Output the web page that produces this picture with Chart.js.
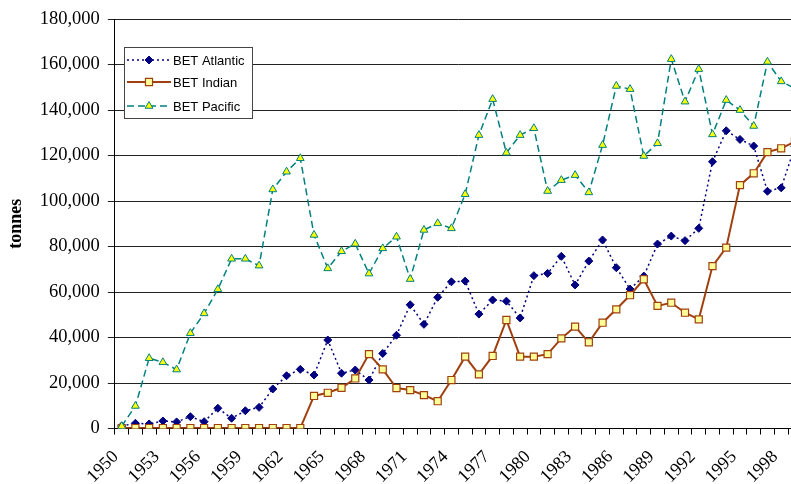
<!DOCTYPE html>
<html>
<head>
<meta charset="utf-8">
<title>BET catches by ocean</title>
<script src="https://cdn.jsdelivr.net/npm/chart.js@4.4.1/dist/chart.umd.min.js"></script>
<style>
  html, body { margin: 0; padding: 0; background: #fff; overflow: hidden; }
  #wrap { width: 791px; height: 484px; overflow: hidden; }
</style>
</head>
<body>
<div id="wrap"><canvas id="betChart" width="808" height="484"></canvas></div>
<script>
// years on the category axis (the picture is cut just after 1998)
const years = [
  '1950', '1951', '1952', '1953', '1954', '1955', '1956', '1957', '1958', '1959',
  '1960', '1961', '1962', '1963', '1964', '1965', '1966', '1967', '1968', '1969',
  '1970', '1971', '1972', '1973', '1974', '1975', '1976', '1977', '1978', '1979',
  '1980', '1981', '1982', '1983', '1984', '1985', '1986', '1987', '1988', '1989',
  '1990', '1991', '1992', '1993', '1994', '1995', '1996', '1997', '1998', '1999'
];
const yearLabels = ['1950', '1953', '1956', '1959', '1962', '1965', '1968', '1971',
  '1974', '1977', '1980', '1983', '1986', '1989', '1992', '1995', '1998'];

// catches in tonnes, 1950-1999
const atlantic = [
  1100, 2300, 2000, 3300, 2900, 5200, 3000, 8900, 4500, 7800,
  9300, 17400, 23200, 26000, 23500, 38900, 24300, 25700, 21300, 33000,
  41000, 54400, 45800, 57700, 64500, 64800, 50300, 56500, 56000, 48600,
  67200, 68200, 75700, 63100, 73600, 82900, 70700, 61300, 67000, 81100,
  84600, 82600, 88000, 117300, 130900, 127100, 124200, 104300, 105800, 124000
];
const indian = [
  200, 200, 200, 200, 200, 200, 200, 200, 200, 200,
  200, 200, 200, 200, 14300, 15700, 17900, 22000, 32700, 26000,
  17800, 16900, 14700, 12000, 21300, 31600, 23800, 31900, 47700, 31600,
  31600, 32700, 39600, 44800, 37900, 46500, 52400, 58600, 65600, 53900,
  55300, 50900, 48000, 71400, 79500, 107000, 112200, 121500, 123200, 126100
];
const pacific = [
  1000, 9900, 30900, 29100, 25900, 41900, 50600, 61200, 74600, 74600,
  71600, 105100, 112900, 118800, 85100, 70400, 77900, 81200, 68100, 79200,
  84300, 65700, 87300, 90200, 88000, 103000, 129000, 144800, 121200, 129000,
  132000, 104400, 109200, 111400, 103800, 124600, 150600, 149200, 119800, 125400,
  162400, 143700, 158000, 129300, 144400, 140000, 133000, 161200, 152600, 149500
];
const yTicks = [0, 20000, 40000, 60000, 80000, 100000, 120000, 140000, 160000, 180000];

const serif = '"Liberation Serif", "Times New Roman", serif';

// legend drawn inside the plot, like the original
const insideLegend = {
  id: 'insideLegend',
  afterDraw(chart) {
    const ctx = chart.ctx;
    const x0 = 124, y0 = 47, w = 128, h = 71;
    const rows = [60, 82, 106];
    ctx.save();
    ctx.fillStyle = '#fff';
    ctx.fillRect(x0, y0, w, h);
    ctx.strokeStyle = '#444';
    ctx.lineWidth = 1;
    ctx.strokeRect(x0 + 0.5, y0 + 0.5, w, h);
    chart.data.datasets.forEach((ds, i) => {
      const y = rows[i];
      ctx.beginPath();
      ctx.setLineDash(ds.borderDash || []);
      ctx.strokeStyle = ds.borderColor;
      ctx.lineWidth = ds.borderWidth;
      ctx.moveTo(x0 + 3, y);
      ctx.lineTo(x0 + 47, y);
      ctx.stroke();
      ctx.setLineDash([]);
      ctx.fillStyle = ds.pointBackgroundColor;
      ctx.strokeStyle = ds.pointBorderColor;
      ctx.lineWidth = ds.pointBorderWidth;
      Chart.helpers.drawPoint(ctx, {
        pointStyle: ds.pointStyle, radius: ds.pointRadius,
        rotation: 0, borderWidth: ds.pointBorderWidth
      }, x0 + 25, y);
      ctx.fillStyle = '#000';
      ctx.font = '13px "Liberation Sans", Arial, sans-serif';
      ctx.textBaseline = 'middle';
      ctx.textAlign = 'left';
      ctx.fillText(ds.label, x0 + 49, y + 1);
    });
    ctx.restore();
  }
};

const ctx = document.getElementById('betChart').getContext('2d');
const betChart = new Chart(ctx, {
  type: 'line',
  data: {
    labels: years,
    datasets: [{
      label: 'BET Atlantic',
      data: atlantic,
      borderColor: '#000080',
      borderWidth: 1.5,
      borderDash: [2, 3],
      pointStyle: 'rectRot',
      pointRadius: 4,
      pointBackgroundColor: '#000080',
      pointBorderColor: '#000080',
      pointBorderWidth: 1,
      order: 3
    }, {
      label: 'BET Indian',
      data: indian,
      borderColor: '#a0400f',
      borderWidth: 2,
      pointStyle: 'rect',
      pointRadius: 5,
      pointBackgroundColor: '#ffff99',
      pointBorderColor: '#a0400f',
      pointBorderWidth: 1.2,
      order: 2
    }, {
      label: 'BET Pacific',
      data: pacific,
      borderColor: '#008080',
      borderWidth: 1.5,
      borderDash: [7, 4],
      pointStyle: 'triangle',
      pointRadius: 4.5,
      pointBackgroundColor: '#ffff00',
      pointBorderColor: '#008080',
      pointBorderWidth: 1,
      order: 1
    }]
  },
  options: {
    responsive: false,
    animation: false,
    events: [],
    layout: { padding: { top: 19, right: 4, bottom: 0, left: 0 } },
    plugins: {
      legend: { display: false },
      tooltip: { enabled: false }
    },
    scales: {
      x: {
        type: 'category',
        offset: true,
        border: { color: '#000', width: 1 },
        grid: {
          offset: true,
          drawOnChartArea: false,
          color: '#000',
          tickLength: 6
        },
        ticks: {
          autoSkip: false,
          minRotation: 45,
          maxRotation: 45,
          padding: 12,
          labelOffset: -6,
          color: '#000',
          font: { family: serif, size: 18 },
          callback: function (value, index) {
            const y = years[index];
            return yearLabels.includes(y) ? y : '';
          }
        },
        afterFit: function (scale) {
          scale.height = 55.5;
          scale.paddingLeft = 0;
          scale.paddingRight = 0;
        }
      },
      y: {
        min: 0,
        max: 180000,
        border: { color: '#000', width: 1 },
        grid: { color: '#222', tickLength: 7 },
        afterBuildTicks: function (scale) {
          scale.ticks = yTicks.map(v => ({ value: v }));
        },
        ticks: {
          padding: 8,
          color: '#000',
          font: { family: serif, size: 18.5 },
          callback: v => v.toLocaleString('en-US')
        },
        title: {
          display: true,
          text: 'tonnes',
          color: '#000',
          padding: { top: 6, bottom: 4 },
          font: { family: serif, size: 18, weight: 'bold' }
        },
        afterFit: function (scale) { scale.width = 114.8; }
      }
    }
  },
  plugins: [insideLegend]
});
</script>
</body>
</html>
